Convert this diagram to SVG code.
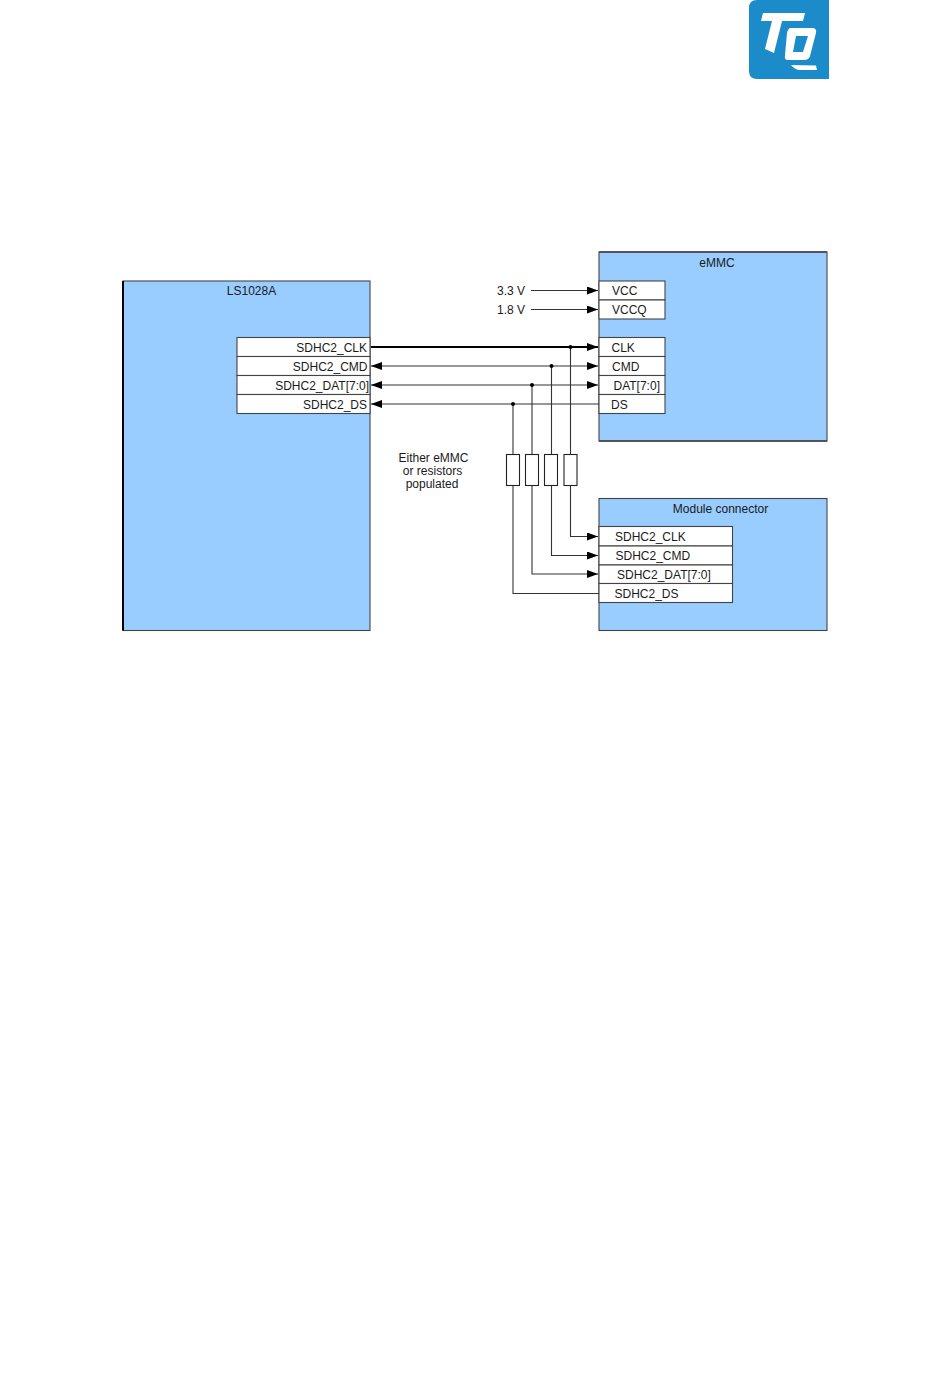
<svg xmlns="http://www.w3.org/2000/svg" width="950" height="1386" viewBox="0 0 950 1386">
<style>
.blk{fill:#99ccff;stroke:#444;stroke-width:1.100}
.pin{fill:#fff;stroke:#444;stroke-width:1.100}
.res{fill:#fff;stroke:#222;stroke-width:1.100}
text{font-family:"Liberation Sans",Arial,sans-serif;font-size:12px;fill:#1a1a1a}
.e{text-anchor:end}.m{text-anchor:middle}
.w{fill:none;stroke:#333;stroke-width:1.100}
.b{stroke-width:2;stroke:#000}
</style>
<defs>
<marker id="a" markerUnits="userSpaceOnUse" markerWidth="12" markerHeight="8" refX="11" refY="4" orient="auto"><path d="M0 0L11 4L0 8Z" fill="#000"/></marker>
<marker id="s" markerUnits="userSpaceOnUse" markerWidth="12" markerHeight="8" refX="1" refY="4" orient="auto"><path d="M12 0L1 4L12 8Z" fill="#000"/></marker>
</defs>
<rect width="950" height="1386" fill="#fff"/>
<g id="logo">
<path d="M757 0H829V79H757Q749 79 749 71V8Q749 0 757 0Z" fill="#1b8cc9"/>
<path d="M763 13H805L803 21H782L774 53L765 49L772 21H761Z" fill="#fff"/>
<path fill-rule="evenodd" d="M791 28H812Q817 28 816 33L810 56Q809 60 804 60H788Q784 60 785 55L787 33Q788 28 791 28ZM796 36L793 52H803L808 36Z" fill="#fff"/>
<path d="M791 65L816 65.500L817 70H800Q795 70 791 65Z" fill="#fff"/>
</g>
<g id="ls1028a">
<rect class="blk" x="123" y="281" width="247" height="349.500"/>
<path d="M123 281V630.500" stroke="#000" stroke-width="2"/>
<text x="251.500" y="295" class="m">LS1028A</text>
<rect class="pin" x="237" y="337.500" width="133" height="19"/>
<rect class="pin" x="237" y="356.500" width="133" height="19"/>
<rect class="pin" x="237" y="375.500" width="133" height="19"/>
<rect class="pin" x="237" y="394.500" width="133" height="19"/>
<text x="367" y="352" class="e">SDHC2_CLK</text>
<text x="367.500" y="371" class="e">SDHC2_CMD</text>
<text x="369" y="390" class="e">SDHC2_DAT[7:0]</text>
<text x="367" y="409" class="e">SDHC2_DS</text>
</g>
<g id="emmc">
<rect class="blk" x="599" y="252" width="228" height="189"/>
<path d="M599 252H827M599 441H827" stroke="#444" stroke-width="1.500"/>
<text x="717" y="267" class="m">eMMC</text>
<rect class="pin" x="599" y="281" width="66" height="19"/>
<rect class="pin" x="599" y="300" width="66" height="19"/>
<rect class="pin" x="599" y="337.500" width="66" height="19"/>
<rect class="pin" x="599" y="356.500" width="66" height="19"/>
<rect class="pin" x="599" y="375.500" width="66" height="19"/>
<rect class="pin" x="599" y="394.500" width="66" height="19"/>
<text x="612" y="295">VCC</text>
<text x="612" y="314">VCCQ</text>
<text x="611.500" y="352">CLK</text>
<text x="612" y="371">CMD</text>
<text x="613.500" y="390">DAT[7:0]</text>
<text x="611" y="409">DS</text>
</g>
<g id="module-connector">
<rect class="blk" x="599" y="498.500" width="228" height="132"/>
<text x="720.500" y="513" class="m">Module connector</text>
<rect class="pin" x="599" y="526.500" width="133.500" height="19.500"/>
<rect class="pin" x="599" y="546" width="133.500" height="19"/>
<rect class="pin" x="599" y="565" width="133.500" height="18.500"/>
<rect class="pin" x="599" y="583.500" width="133.500" height="19"/>
<text x="615" y="541">SDHC2_CLK</text>
<text x="615.500" y="560">SDHC2_CMD</text>
<text x="617" y="579">SDHC2_DAT[7:0]</text>
<text x="614.500" y="598">SDHC2_DS</text>
</g>
<g id="note">
<text x="433.500" y="461.500" class="m">Either eMMC</text>
<text x="432.500" y="475" class="m">or resistors</text>
<text x="432" y="488" class="m">populated</text>
<text x="525" y="295" class="e">3.3 V</text>
<text x="525" y="314" class="e">1.8 V</text>
</g>
<g id="connectors">
<path class="w" d="M531 290.500H598" marker-end="url(#a)"/>
<path class="w" d="M531 309.500H598" marker-end="url(#a)"/>
<path class="w b" d="M371 347H598" marker-end="url(#a)"/>
<path class="w" d="M371 366H598" marker-start="url(#s)" marker-end="url(#a)"/>
<path class="w" d="M371 385H598" marker-start="url(#s)" marker-end="url(#a)"/>
<path class="w" d="M371 404H599" marker-start="url(#s)"/>
<path class="w" d="M570.500 347V454M570.500 486V536.500H598" marker-end="url(#a)"/>
<path class="w" d="M551.500 366V454M551.500 486V555.500H598" marker-end="url(#a)"/>
<path class="w" d="M532 385V454M532 486V574H598" marker-end="url(#a)"/>
<path class="w" d="M513 404V454M513 486V593.500H599"/>
<circle cx="570.500" cy="347" r="2" fill="#000"/>
<circle cx="551.500" cy="366" r="2" fill="#000"/>
<circle cx="532" cy="385" r="2" fill="#000"/>
<circle cx="513" cy="404" r="2" fill="#000"/>
</g>
<g id="r1"><rect class="res" x="506.500" y="454.500" width="13" height="31"/></g>
<g id="r2"><rect class="res" x="525.500" y="454.500" width="13" height="31"/></g>
<g id="r3"><rect class="res" x="544.500" y="454.500" width="13" height="31"/></g>
<g id="r4"><rect class="res" x="564" y="454.500" width="13" height="31"/></g>
</svg>
